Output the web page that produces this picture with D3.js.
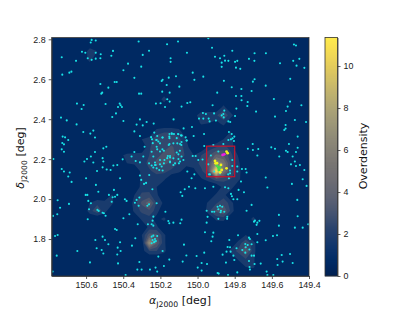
<!DOCTYPE html>
<html lang="en">
<head>
<meta charset="UTF-8">
<title>Overdensity map</title>
<script src="https://d3js.org/d3.v7.min.js"></script>
<style>
  html, body { margin: 0; padding: 0; background: #fff; }
  svg { display: block; font-family: "DejaVu Sans", sans-serif; }
  .axis text { font-size: 8.9px; fill: #1a1a1a; }
  .axis line, .axis path { stroke: #333; stroke-width: 0.8; }
  .label { font-size: 11px; fill: #111; }
</style>
</head>
<body>
<svg id="chart" width="415" height="311"></svg>
<script>
// tick labels
const raTicks = [150.6, 150.4, 150.2, 150.0, 149.8, 149.6, 149.4];
const decTicks = [1.8, 2.0, 2.2, 2.4, 2.6, 2.8];
const cbarTicks = [0, 2, 4, 6, 8, 10];
const raRange = [150.785, 149.4];
const decRange = [1.615, 2.809];
const overMax = 11.36;

// protocluster box [ra left, ra right, dec bottom, dec top]
const boxRa = [149.951, 149.8];
const boxDec = [2.112, 2.265];

// overdensity on a 0.04 deg grid
const gridRa0 = 150.78, gridDec0 = 2.82, gridStep = 0.04, gridCols = 36, gridRows = 31;
const backgroundOver = 0.55;
const contourLevels = [1, 1.8, 2.6, 3.4, 4.2, 5, 5.8, 6.6, 7.4, 8.2, 9, 9.8, 10.6];
// [row, first column, values]
const overdensityRows = [
  [2, 5, [1.6, 1]], [3, 5, [1.5]],
  [8, 15, [1.6]],
  [9, 23, [1.3]],
  [10, 19, [0.5, 1.7, 1.7, 1.7, 2.4, 1.4]],
  [11, 20, [1.2, 1, 0.6, 1.4]],
  [12, 14, [1.4, 1.7, 1.7, 1.4]], [12, 24, [1]],
  [13, 12, [1, 1.4, 2.3, 2.3, 2.3, 2, 1]], [13, 23, [1, 1.3]],
  [14, 13, [1.7, 2.3, 2.4, 2.7, 2.3, 1.4]], [14, 21, [1.3, 1.8, 2.1, 1.5]],
  [15, 9, [0.8, 1.2, 1.3, 1.4, 1.8, 2.4, 2.8, 2.8, 2.4, 1.6, 1, 1.8, 2.5, 3.6, 3.4, 2, 0.9]],
  [16, 10, [1, 1.2, 1.5, 2, 2.8, 2.8, 2.4, 1.7, 1.3, 1.3, 2.1, 3, 6, 5, 2.4, 1.2]],
  [17, 12, [1.3, 1.7, 2, 2, 1.6, 1.2, 0.5, 0.8, 1.6, 2.8, 11.3, 5, 2.4, 1.4]],
  [18, 12, [1.3, 1.6, 1.5, 1.2]], [18, 20, [0.9, 1.4, 2.4, 2, 1.8, 1.3]],
  [19, 12, [1.4, 1.5, 1]], [19, 23, [1.4, 1.5]],
  [20, 8, [1.1, 0, 0, 1, 2, 2, 1.2]], [20, 22, [1.2, 1.4]],
  [21, 5, [1, 1.6, 1.4, 1.2, 0, 0, 1.4, 2.8, 4, 1.7, 0.8]], [21, 21, [1.3, 1.7, 2.4, 1.4]],
  [22, 5, [1.5, 2.4, 1.4, 0, 0, 0, 1.2, 2, 2.4, 1.4]], [22, 21, [1.6, 2.8, 3.4, 1.6]],
  [23, 12, [1.2, 1.4, 0.6, 1.3]], [23, 22, [1.2, 1.3]], [23, 27, [1.4]],
  [24, 13, [1.3, 1.2]],
  [25, 12, [1, 3, 2.8, 1.2]], [25, 26, [1]],
  [26, 13, [6.5, 3.5, 1.2]], [26, 25, [1.4, 2.4, 1.4]],
  [27, 12, [0.6, 1.8, 1.8, 1.3]], [27, 24, [1.4, 2, 3.4, 1.4]],
  [28, 25, [1.2, 1.8, 1.2]],
  [29, 26, [1, 1.2]]
];

// galaxies, [ra, dec]
const cyanGalaxies = [
  [150.570,2.797],[150.575,2.784],[150.548,2.794],[150.317,2.789],[150.164,2.775],[150.105,2.789],[150.731,2.710],[150.622,2.738],
  [150.604,2.733],[150.548,2.733],[150.455,2.742],[150.521,2.725],[150.464,2.718],[150.295,2.722],[150.261,2.743],[150.591,2.705],
  [150.570,2.697],[150.548,2.703],[150.523,2.705],[150.654,2.692],[150.145,2.705],[150.145,2.687],[150.374,2.678],[150.303,2.663],
  [150.399,2.645],[150.728,2.623],[150.690,2.633],[150.679,2.638],[150.340,2.607],[150.446,2.586],[150.435,2.586],[150.523,2.576],
  [150.193,2.591],[150.188,2.597],[150.155,2.608],[150.116,2.615],[150.166,2.571],[150.480,2.558],[150.513,2.533],[150.518,2.528],
  [150.315,2.528],[150.303,2.528],[150.190,2.538],[150.150,2.533],[150.098,2.563],[150.649,2.478],[150.613,2.471],[150.624,2.451],
  [150.495,2.476],[150.419,2.478],[150.414,2.470],[150.428,2.461],[150.407,2.461],[150.439,2.429],[150.459,2.411],[150.224,2.478],
  [150.199,2.480],[150.175,2.461],[150.163,2.500],[150.150,2.488],[150.735,2.408],[150.704,2.394],[150.399,2.391],[150.310,2.399],
  [150.274,2.386],[150.236,2.378],[150.129,2.399],[150.651,2.374],[150.328,2.373],[150.295,2.369],[150.340,2.339],[150.615,2.336],
  [150.561,2.343],[150.577,2.328],[150.552,2.308],[150.310,2.316],[150.726,2.313],[150.713,2.309],[150.696,2.296],[150.728,2.281],
  [150.719,2.274],[150.731,2.249],[150.719,2.237],[150.507,2.254],[150.491,2.262],[150.552,2.236],[150.340,2.236],[150.285,2.262],
  [150.233,2.333],[150.217,2.316],[150.245,2.299],[150.222,2.296],[150.188,2.308],[150.152,2.313],[150.138,2.326],[150.127,2.326],
  [150.105,2.326],[150.202,2.279],[150.220,2.262],[150.217,2.249],[150.181,2.242],[150.155,2.271],[150.130,2.279],[150.109,2.279],
  [150.247,2.237],[150.095,2.242],
  [150.776,2.201],[150.609,2.188],[150.595,2.201],[150.574,2.213],[150.511,2.205],[150.561,2.183],[150.507,2.188],[150.731,2.151],
  [150.719,2.138],[150.688,2.133],[150.696,2.113],[150.678,2.086],[150.541,2.141],[150.511,2.159],[150.489,2.148],[150.468,2.146],
  [150.453,2.168],[150.432,2.171],[150.403,2.199],[150.600,2.104],[150.417,2.104],[150.547,2.071],[150.534,2.037],[150.310,2.118],
  [150.303,2.096],[150.277,2.081],[150.288,2.076],[150.243,2.049],[150.602,2.021],[150.593,2.021],[150.450,2.046],[150.477,2.021],
  [150.432,2.021],[150.444,2.012],[150.457,2.009],[150.462,1.987],[150.588,1.991],[150.753,1.994],[150.692,1.976],[150.740,1.957],
  [150.574,1.979],[150.584,1.949],[150.539,1.946],[150.532,1.941],[150.391,1.999],[150.382,1.991],[150.511,1.932],[150.504,1.929],
  [150.495,1.917],[150.367,1.924],[150.755,1.924],[150.778,1.916],[150.591,1.899],[150.399,1.904],[150.444,1.850],[150.435,1.845],
  [150.322,1.874],[150.267,1.874],[150.328,1.996],[150.313,2.008],[150.317,1.967],[150.337,1.982],[150.270,1.967],[150.261,1.974],
  [150.220,1.979],[150.238,1.912],[150.173,1.937],[150.157,1.890],[150.152,1.879],[150.242,1.892],[150.247,1.874],[150.238,1.867],
  [150.130,1.882],[150.767,1.815],[150.753,1.820],[150.511,1.812],[150.550,1.795],[150.498,1.795],[150.480,1.774],[150.543,1.754],
  [150.516,1.745],[150.417,1.784],[150.430,1.757],[150.353,1.767],[150.335,1.804],[150.507,1.728],[150.432,1.723],[150.414,1.740],
  [150.647,1.740],[150.758,1.717],[150.579,1.683],[150.428,1.678],[150.313,1.685],[150.780,1.637],[150.324,1.647],[150.301,1.647],
  [150.256,1.647],[150.226,1.657],[150.217,1.637],[150.181,1.665],[150.152,1.697],[150.211,1.712],[150.188,1.740],[150.231,1.787],
  [150.247,1.812],[150.238,1.817],[150.217,1.815],[150.242,1.795],[150.229,1.800],[150.224,1.790],[150.234,1.784],[150.247,1.779],
  [150.387,1.620],[150.310,2.184],[150.333,2.191],[150.355,2.213],[150.292,2.213],[150.238,2.213],[150.247,2.168],[150.229,2.171],
  [150.220,2.154],[150.206,2.146],[150.188,2.143],[150.181,2.179],[150.202,2.196],[150.163,2.205],[150.148,2.216],[150.148,2.184],
  [150.121,2.179],[150.103,2.201],[150.100,2.179],[150.260,2.121],
  [149.942,2.805],[149.922,2.758],[149.481,2.774],[149.470,2.769],[150.057,2.733],[149.813,2.743],[149.693,2.730],[149.632,2.730],
  [149.906,2.713],[149.856,2.718],[149.879,2.705],[149.852,2.693],[149.834,2.692],[149.870,2.683],[149.798,2.687],[149.786,2.692],
  [149.723,2.702],[149.694,2.692],[149.556,2.680],[149.485,2.692],[149.452,2.702],[149.467,2.668],[149.425,2.657],[149.870,2.662],
  [149.793,2.658],[149.770,2.652],[150.026,2.633],[149.969,2.613],[150.017,2.597],[149.858,2.592],[149.693,2.600],[149.702,2.588],
  [149.501,2.602],[149.816,2.560],[149.633,2.568],[149.764,2.551],[149.709,2.541],[149.894,2.533],[149.793,2.516],[149.764,2.516],
  [149.763,2.495],[149.730,2.486],[149.732,2.466],[149.589,2.501],[149.502,2.488],[149.515,2.463],[149.441,2.470],[149.524,2.441],
  [150.055,2.481],[150.039,2.485],[150.086,2.463],[149.919,2.470],[149.791,2.453],[149.685,2.438],[149.583,2.413],[149.476,2.396],
  [149.416,2.386],[149.971,2.431],[149.955,2.426],[149.992,2.403],[149.969,2.403],[149.940,2.403],[149.935,2.389],[149.901,2.393],
  [149.911,2.429],[149.856,2.443],[149.870,2.419],[149.861,2.426],[149.859,2.409],[149.798,2.416],[149.834,2.389],[149.824,2.386],
  [149.526,2.371],[149.526,2.353],[149.533,2.346],[150.075,2.354],[150.030,2.361],[149.965,2.326],[149.461,2.313],[150.089,2.319],
  [150.064,2.309],[150.021,2.316],[150.059,2.293],[150.086,2.286],[149.831,2.336],[149.816,2.326],[149.802,2.313],[149.811,2.304],
  [149.834,2.296],[149.820,2.299],[149.804,2.291],[149.861,2.276],[149.964,2.266],[149.915,2.271],[149.703,2.276],[149.729,2.252],
  [149.702,2.246],[149.673,2.251],[149.603,2.259],[149.583,2.252],[149.508,2.276],[149.461,2.257],[149.524,2.242],[149.515,2.236],
  [149.470,2.236],[150.087,2.271],
  [150.086,2.213],[150.026,2.216],[150.010,2.216],[149.996,2.196],[149.973,2.198],[149.678,2.218],[149.560,2.213],[149.488,2.213],
  [149.476,2.188],[149.497,2.174],[149.470,2.166],[149.449,2.171],[149.425,2.146],[150.055,2.138],[150.017,2.124],[150.032,2.104],
  [150.046,2.062],[150.069,2.049],[150.012,2.054],[149.960,2.054],[149.915,2.062],[150.091,2.034],[150.082,2.016],[149.786,2.163],
  [149.786,2.138],[149.761,2.151],[149.741,2.151],[149.736,2.133],[149.633,2.108],[149.766,2.088],[149.624,2.058],[149.779,2.046],
  [149.750,2.034],[149.852,2.059],[149.834,2.054],[149.820,2.026],[149.815,2.014],[149.807,1.999],[149.786,1.999],[149.492,2.076],
  [149.413,2.066],[149.434,2.099],[149.463,1.996],[149.709,1.971],[149.736,1.942],[149.562,1.921],[149.461,1.914],[149.951,1.942],
  [149.922,1.937],[149.910,1.937],[149.892,1.962],[149.879,1.967],[149.867,1.962],[149.888,1.949],[149.874,1.942],[149.876,1.934],
  [149.856,1.937],[149.840,1.911],[149.841,1.901],[149.946,1.911],[149.888,1.901],[149.951,1.882],[150.086,1.897],[150.093,1.879],
  [149.691,1.892],[149.696,1.887],[149.678,1.882],[149.667,1.891],[149.682,1.871],[149.562,1.867],[149.476,1.857],[149.434,1.857],
  [149.404,1.874],[149.960,1.834],[149.915,1.832],[149.919,1.812],[149.926,1.789],[149.782,1.819],[149.678,1.825],[149.594,1.815],
  [149.572,1.819],[149.723,1.807],[149.718,1.800],[149.633,1.794],[149.829,1.795],[150.073,1.772],[149.825,1.759],[149.838,1.760],
  [149.743,1.775],[149.730,1.770],[149.709,1.774],[149.678,1.784],[149.790,1.754],[149.741,1.759],[149.721,1.748],[149.759,1.745],
  [149.844,1.737],[149.865,1.722],[149.822,1.737],[149.807,1.717],[149.743,1.732],[149.709,1.717],[149.696,1.717],[149.802,1.695],
  [149.723,1.690],[149.660,1.677],[149.693,1.675],[149.720,1.660],[149.718,1.647],[149.847,1.682],[149.964,1.732],[150.060,1.718],
  [150.005,1.715],[150.080,1.687],[149.978,1.680],[149.949,1.675],[149.999,1.657],[149.978,1.642],[149.892,1.630],[149.886,1.627],
  [149.786,1.633],[149.836,1.620],[149.628,1.637],[149.624,1.620],[149.592,1.620],[149.571,1.700],[149.547,1.720],[149.502,1.725],
  [149.542,1.687],[149.569,1.670],[149.488,1.680],
  [149.888,2.238],[149.928,2.218],[149.933,2.124],[149.879,2.129],[149.813,2.196],[149.835,2.124],[149.813,2.166],[149.942,2.174],
  [149.910,2.138],[149.938,2.124],[149.825,2.143],[149.825,2.129],[149.831,2.104],
  [150.250,2.310],[150.220,2.296],[150.241,2.280],[150.211,2.288],[150.189,2.308],[150.151,2.326],[150.139,2.330],[150.103,2.325],
  [150.085,2.318],[150.151,2.305],[150.112,2.305],[150.151,2.276],[150.094,2.276],[150.058,2.293],[150.112,2.233],[150.103,2.224],
  [150.160,2.216],[150.148,2.208],[150.148,2.188],[150.178,2.196],[150.202,2.238],[150.189,2.249],[150.225,2.171],[150.229,2.183],
  [150.261,2.179],[150.238,2.158],[150.193,2.163],[150.202,2.174],[150.130,2.171],[150.130,2.204],[150.094,2.188],[150.076,2.196]
];
const yellowGalaxies = [
  [149.844,2.238],[149.838,2.230],[149.906,2.191],[149.903,2.179],[149.874,2.171],[149.870,2.146],[149.878,2.134],[149.844,2.154],[149.895,2.180]
];
const greenGalaxies = [
  [149.896,2.168],[149.888,2.158],[149.885,2.146],[149.880,2.160]
];
const magentaGalaxies = [
  [149.856,2.224],[149.865,2.221]
];

const margin = { left: 51.7, right: 309, top: 37.5, bottom: 276 };
const svg = d3.select('#chart');

const xScale = d3.scaleLinear().domain(raRange).range([margin.left, margin.right]);
const yScale = d3.scaleLinear().domain(decRange).range([margin.bottom, margin.top]);
const overScale = d3.scaleLinear().domain([0, overMax]).range([margin.bottom, margin.top]);
const colour = function(v) { return d3.interpolateCividis(v / overMax); };

svg.append('clipPath').attr('id', 'plotClip').append('rect')
  .attr('x', margin.left).attr('y', margin.top)
  .attr('width', margin.right - margin.left).attr('height', margin.bottom - margin.top);

const plot = svg.append('g').attr('clip-path', 'url(#plotClip)');

plot.append('rect')
  .attr('x', margin.left).attr('y', margin.top)
  .attr('width', margin.right - margin.left).attr('height', margin.bottom - margin.top)
  .attr('fill', colour(backgroundOver));

// fill the grid from the sparse rows
const gridValues = new Array(gridCols * gridRows).fill(0);
overdensityRows.forEach(function(r) {
  r[2].forEach(function(v, k) {
    gridValues[r[0] * gridCols + r[1] + k] = v;
  });
});

const contourGen = d3.contours().size([gridCols, gridRows]).thresholds(contourLevels);
const gridProjection = d3.geoTransform({
  point: function(x, y) {
    this.stream.point(
      xScale(gridRa0 - gridStep * (x - 0.5)),
      yScale(gridDec0 - gridStep * (y - 0.5))
    );
  }
});
plot.selectAll('path.band')
  .data(contourGen(gridValues))
  .join('path')
  .attr('class', 'band')
  .attr('d', d3.geoPath(gridProjection))
  .attr('fill', function(d) { return colour(d.value + 0.7); });

const drawGalaxies = function(list, fill, r) {
  plot.selectAll(null)
    .data(list)
    .join('circle')
    .attr('cx', function(d) { return xScale(d[0]); })
    .attr('cy', function(d) { return yScale(d[1]); })
    .attr('r', r)
    .attr('fill', fill);
};
drawGalaxies(cyanGalaxies, '#17e4e8', 1.05);
drawGalaxies(greenGalaxies, '#3fe04a', 1.4);
drawGalaxies(yellowGalaxies, '#f2f21e', 1.4);
drawGalaxies(magentaGalaxies, '#f020e0', 1.4);

// red box
plot.append('rect')
  .attr('x', xScale(boxRa[0])).attr('y', yScale(boxDec[1]))
  .attr('width', xScale(boxRa[1]) - xScale(boxRa[0]))
  .attr('height', yScale(boxDec[0]) - yScale(boxDec[1]))
  .attr('fill', 'none').attr('stroke', '#c8142c').attr('stroke-width', 1.2);

// axes
const xAxis = d3.axisBottom(xScale).tickValues(raTicks).tickFormat(d3.format('.1f')).tickSize(3).tickSizeOuter(0).tickPadding(3);
const yAxis = d3.axisLeft(yScale).tickValues(decTicks).tickFormat(d3.format('.1f')).tickSize(3).tickSizeOuter(0).tickPadding(3);
svg.append('g').attr('class', 'axis').attr('transform', 'translate(0,' + margin.bottom + ')').call(xAxis);
svg.append('g').attr('class', 'axis').attr('transform', 'translate(' + margin.left + ',0)').call(yAxis);
svg.append('rect')
  .attr('x', margin.left).attr('y', margin.top)
  .attr('width', margin.right - margin.left).attr('height', margin.bottom - margin.top)
  .attr('fill', 'none').attr('stroke', '#333').attr('stroke-width', 0.8);

// colorbar
const cbarX = 325, cbarW = 12.5;
svg.selectAll('rect.cbar')
  .data(d3.range(0, overMax, overMax / 240))
  .join('rect')
  .attr('class', 'cbar')
  .attr('x', cbarX)
  .attr('y', function(d) { return overScale(d + overMax / 240) - 0.3; })
  .attr('width', cbarW)
  .attr('height', (margin.bottom - margin.top) / 240 + 0.6)
  .attr('fill', function(d) { return colour(d); });
const cAxis = d3.axisRight(overScale).tickValues(cbarTicks).tickFormat(d3.format('d')).tickSize(3).tickSizeOuter(0).tickPadding(3);
svg.append('g').attr('class', 'axis').attr('transform', 'translate(' + (cbarX + cbarW) + ',0)').call(cAxis);
svg.append('rect')
  .attr('x', cbarX).attr('y', margin.top)
  .attr('width', cbarW).attr('height', margin.bottom - margin.top)
  .attr('fill', 'none').attr('stroke', '#333').attr('stroke-width', 0.8);

// labels
const xLabel = svg.append('text').attr('class', 'label').attr('x', 180).attr('y', 304).attr('text-anchor', 'middle');
xLabel.append('tspan').attr('font-style', 'italic').text('α');
xLabel.append('tspan').attr('dy', 2.5).attr('font-size', 7.7).text('J2000');
xLabel.append('tspan').attr('dy', -2.5).text(' [deg]');

const yLabel = svg.append('text').attr('class', 'label')
  .attr('transform', 'translate(24,158) rotate(-90)').attr('text-anchor', 'middle');
yLabel.append('tspan').attr('font-style', 'italic').text('δ');
yLabel.append('tspan').attr('dy', 2.5).attr('font-size', 7.7).text('J2000');
yLabel.append('tspan').attr('dy', -2.5).text(' [deg]');

svg.append('text').attr('class', 'label')
  .attr('transform', 'translate(367,156) rotate(-90)').attr('text-anchor', 'middle')
  .text('Overdensity');
</script>
</body>
</html>
